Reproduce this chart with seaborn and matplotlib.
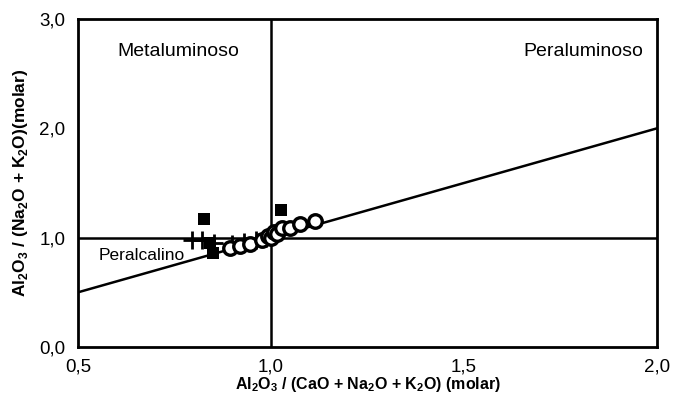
import numpy as np
import pandas as pd
import matplotlib
matplotlib.use("Agg")
import matplotlib.pyplot as plt
import seaborn as sns
from matplotlib.ticker import FuncFormatter

# Molar ratios: A/CNK (x) and A/NK (y)
square_x = [0.826, 1.026, 0.842, 0.850]
square_y = [1.171, 1.253, 0.951, 0.860]

cross_x = [0.795, 0.821, 0.852, 0.899, 0.930, 0.961, 0.987]
cross_y = [0.979, 0.979, 0.950, 0.940, 0.960, 0.980, 1.000]

circle_x = [0.894, 0.920, 0.946, 0.977, 0.992, 1.000, 1.008, 1.015, 1.028, 1.049, 1.075, 1.114]
circle_y = [0.906, 0.924, 0.942, 0.979, 1.016, 1.000, 1.052, 1.030, 1.089, 1.089, 1.125, 1.153]

x_ticks = [0.5, 1.0, 1.5, 2.0]
y_ticks = [0.0, 1.0, 2.0, 3.0]

sns.set_theme(style="white")
plt.rcParams["font.family"] = ["Liberation Sans", "DejaVu Sans"]
plt.rcParams["mathtext.fontset"] = "custom"
plt.rcParams["mathtext.rm"] = "Liberation Sans:bold"
plt.rcParams["mathtext.bf"] = "Liberation Sans:bold"
plt.rcParams["text.color"] = "black"
plt.rcParams["axes.labelcolor"] = "black"

fig = plt.figure(figsize=(6.74, 4.12), dpi=100)
ax = fig.add_axes([0.1157, 0.1578, 0.8591, 0.7961])

# Reference lines: A/CNK = 1, A/NK = 1 and the 1:1 line
ax.axvline(1.0, color="black", lw=1.8, zorder=1)
ax.axhline(1.0, color="black", lw=1.8, zorder=1)
ax.plot([0.5, 2.0], [0.5, 2.0], color="black", lw=1.8, zorder=1)

sq = pd.DataFrame({"x": square_x, "y": square_y})
cr = pd.DataFrame({"x": cross_x, "y": cross_y})
ci = pd.DataFrame({"x": circle_x, "y": circle_y})

sns.scatterplot(data=sq, x="x", y="y", marker="s", s=75, color="black",
                edgecolor="black", linewidth=0, ax=ax, zorder=3)
sns.scatterplot(data=cr, x="x", y="y", marker="+", s=150, color="black",
                linewidth=2.0, ax=ax, zorder=3)
sns.scatterplot(data=ci, x="x", y="y", marker="o", s=95, facecolor="white",
                edgecolor="black", linewidth=2.4, ax=ax, zorder=4)

ax.set_xlim(0.5, 2.0)
ax.set_ylim(0.0, 3.0)
ax.set_xticks(x_ticks)
ax.set_yticks(y_ticks)
fmt = FuncFormatter(lambda v, p: f"{v:.1f}".replace(".", ","))
ax.xaxis.set_major_formatter(fmt)
ax.yaxis.set_major_formatter(fmt)
ax.tick_params(axis="both", length=0, labelsize=13.5, colors="black")
ax.tick_params(axis="x", pad=8)
ax.tick_params(axis="y", pad=9)

for sp in ax.spines.values():
    sp.set_color("black")
    sp.set_linewidth(2.0)

ax.set_xlabel(r"Al$_2$O$_3$ / (CaO + Na$_2$O + K$_2$O) (molar)",
              fontsize=11.5, fontweight="bold", labelpad=0, color="black")
ax.set_ylabel(r"Al$_2$O$_3$ / (Na$_2$O + K$_2$O)(molar)",
              fontsize=12.5, fontweight="bold", labelpad=7, color="black")

ax.text(0.760, 2.70, "Metaluminoso", fontsize=14, ha="center", va="center", color="black")
ax.text(1.808, 2.70, "Peraluminoso", fontsize=14, ha="center", va="center", color="black")
ax.text(0.666, 0.84, "Peralcalino", fontsize=12.5, ha="center", va="center", color="black")

fig.savefig("out.png", dpi=100)
